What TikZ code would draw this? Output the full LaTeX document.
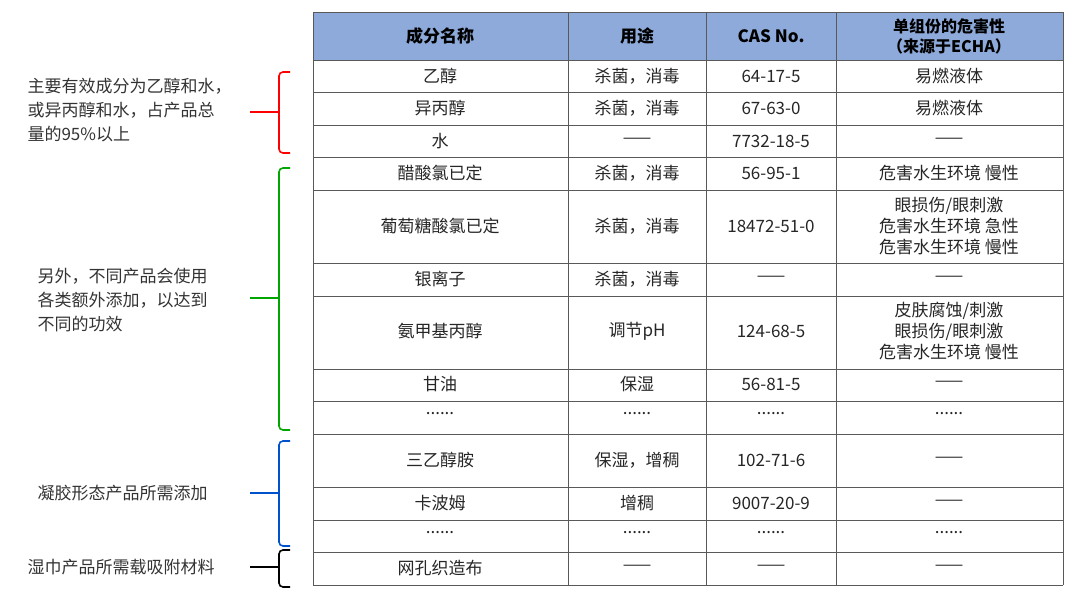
\documentclass[tikz,border=0pt]{standalone}
\usepackage{fontspec}
\setmainfont{Noto Sans CJK SC}
\begin{document}
\begin{tikzpicture}[x=1pt,y=-1pt,
  cell/.style={font=\fontsize{17}{21}\selectfont, align=center, text=black!85},
  hcell/.style={font=\fontsize{17}{20}\selectfont\bfseries, align=center},
  side/.style={font=\fontsize{17}{24}\selectfont, align=left, text=black!80, anchor=west},
  brk/.style={line width=1.6pt, rounded corners=4pt}]
\useasboundingbox (0,0) rectangle (1080,608);
\fill[fill={rgb,255:red,142;green,170;blue,219}] (313,12) rectangle (1063,60);
% rows
\foreach \y in {12,60,92,125,157,190,263,296,369,401,434,487,520,552,585}
  \draw[black!65, line width=0.9pt] (313,\y) -- (1063,\y);
\foreach \x in {313,568,706,836,1063}
  \draw[black!65, line width=0.9pt] (\x,12) -- (\x,585);
% header
\node[hcell] (h1) at (440,36) {成分名称};
\node[hcell] (h2) at (637,36) {用途};
\node[hcell] (h3) at (771,36) {CAS No.};
\node[hcell, font=\fontsize{16}{20}\selectfont\bfseries] (h4) at (949,36) {单组份的危害性\\（来源于ECHA）};
% data
\newcommand{\myrow}[5]{%
  \node[cell] at (440,#1) {#2};
  \node[cell] at (637,#1) {#3};
  \node[cell] at (771,#1) {#4};
  \node[cell] at (949,#1) {#5};}
\myrow{76}{乙醇}{杀菌，消毒}{64-17-5}{易燃液体}
\myrow{108}{异丙醇}{杀菌，消毒}{67-63-0}{易燃液体}
\myrow{141}{水}{——}{7732-18-5}{——}
\myrow{173}{醋酸氯已定}{杀菌，消毒}{56-95-1}{危害水生环境 慢性}
\myrow{226}{葡萄糖酸氯已定}{杀菌，消毒}{18472-51-0}{眼损伤/眼刺激\\危害水生环境 急性\\危害水生环境 慢性}
\myrow{279}{银离子}{杀菌，消毒}{——}{——}
\myrow{331}{氨甲基丙醇}{调节pH}{124-68-5}{皮肤腐蚀/刺激\\眼损伤/眼刺激\\危害水生环境 慢性}
\myrow{384}{甘油}{保湿}{56-81-5}{——}
\myrow{414}{......}{......}{......}{......}
\myrow{460}{三乙醇胺}{保湿，增稠}{102-71-6}{——}
\myrow{503}{卡波姆}{增稠}{9007-20-9}{——}
\myrow{533}{......}{......}{......}{......}
\myrow{568}{网孔织造布}{——}{——}{——}
% side labels
\node[side] (s1) at (24,110) {主要有效成分为乙醇和水，\\或异丙醇和水，占产品总\\量的95\%以上};
\node[side] (s2) at (34,300) {另外，不同产品会使用\\各类额外添加，以达到\\不同的功效};
\node[side] (s3) at (34,493) {凝胶形态产品所需添加};
\node[side] (s4) at (24,567) {湿巾产品所需载吸附材料};
% brackets
\draw[brk, red] (290,72) -- (279,72) -- (279,153) -- (290,153);
\draw[red, line width=1.6pt] (250,112) -- (279,112);
\draw[brk, green!65!black] (290,168) -- (279,168) -- (279,430) -- (290,430);
\draw[green!65!black, line width=1.6pt] (250,298) -- (279,298);
\draw[brk, blue!60!cyan!80!black] (290,441) -- (279,441) -- (279,546) -- (290,546);
\draw[blue!60!cyan!80!black, line width=1.6pt] (250,493) -- (279,493);
\draw[brk, black] (290,550) -- (279,550) -- (279,587) -- (290,587);
\draw[black, line width=1.6pt] (250,567) -- (279,567);
\end{tikzpicture}
\end{document}
